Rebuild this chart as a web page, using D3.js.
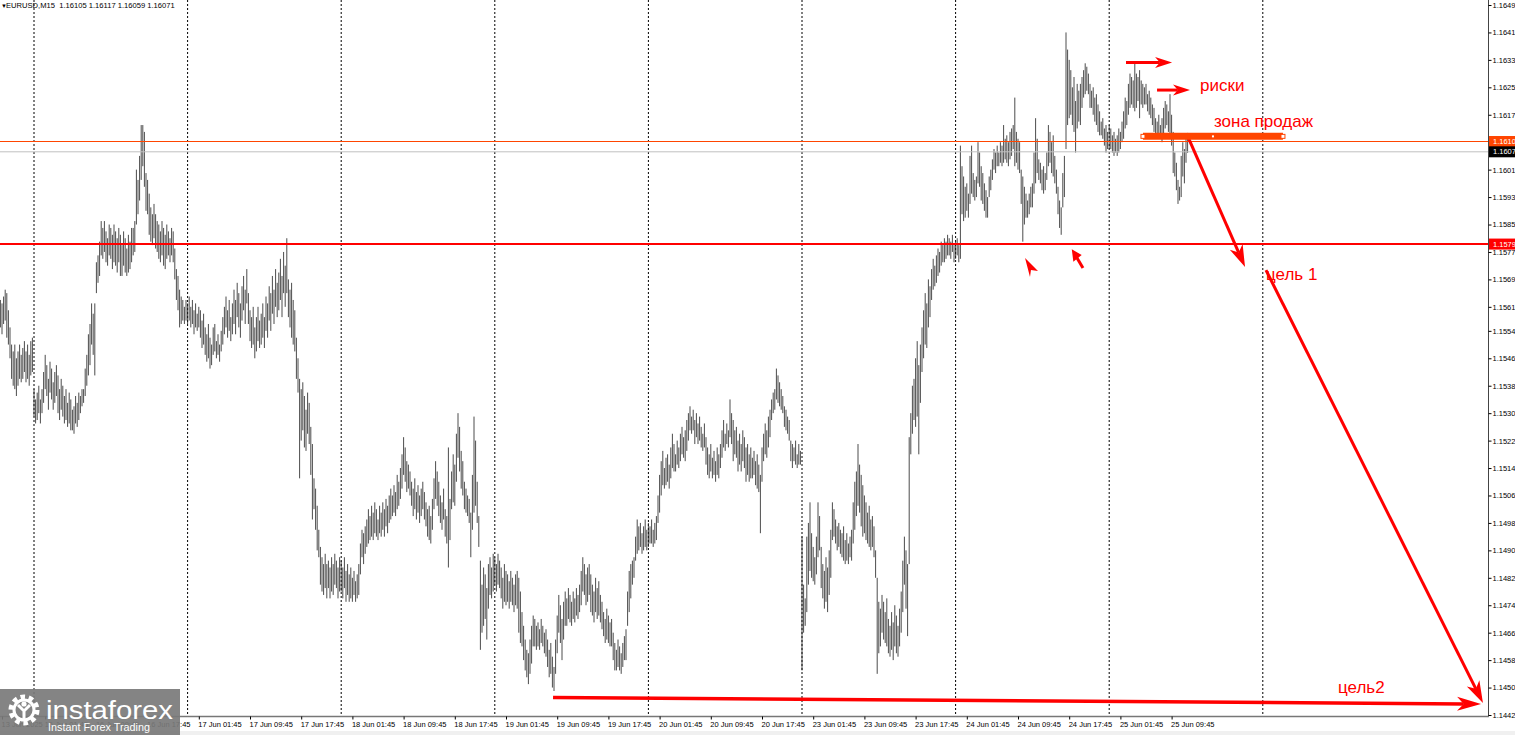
<!DOCTYPE html>
<html><head><meta charset="utf-8">
<script src="https://cdn.jsdelivr.net/npm/d3@7"></script>
<style>
body{margin:0;background:#fff;overflow:hidden}
svg{display:block}
text{font-family:"Liberation Sans",Arial,sans-serif}
</style>
</head><body>
<svg id="c" width="1515" height="735"></svg>
<script>
// ---------- DATA (EURUSD M15, bar highs / lows in pips above 1.1400) ----------
const BASE = 1.14, PIP = 0.0001;
const FIRST_BAR = -21;            // bar index of first bar (0 = 16 Jun 00:00)
const hi13 = [163,162,164,166,165,160,155,150,148,150,146,148,150,147,149,151,148,150,147,151,152];
const lo13 = [155,153,156,157,152,150,146,140,138,137,135,138,140,139,140,142,139,140,138,141,142];
const hi16 = [137,134,136,138,134,137,142,147,144,140,145,143,139,142,144,141,137,140,138,135,137,133,136,134,131,132,135,133,136,135,137,137,143,147,153,156,162,159,162,174,176,180,186,184,186,183,181,185,184,182,185,183,181,184,182,179,183,181,178,182,180,184,184,186,201,198,205,214,214,212,200,198,194,190,188,191,188,186,185,183,186,184,182,185,183,181,184,183,178,172,170,166,164,163,161,163];
const lo16 = [129,127,128,130,127,130,133,137,135,131,136,134,131,133,135,130,128,131,129,127,128,126,127,125,125,124,127,126,128,130,132,133,135,138,141,144,150,147,141,165,168,170,176,175,177,174,173,176,175,172,174,173,171,174,170,170,173,171,170,171,172,174,176,177,185,188,192,198,202,196,189,188,182,180,179,181,178,177,175,174,176,173,172,175,176,174,176,174,169,163,160,155,156,157,156,157];
const hi17 = [162,164,161,163,160,162,159,161,160,157,159,155,153,156,152,150,155,156,151,153,150,154,158,161,164,160,163,158,162,166,163,168,165,162,167,170,166,172,165,160,158,161,155,158,161,157,159,162,158,164,162,167,165,170,166,172,168,171,175,170,177,173,181,169,166,168,163,160,152,146,140,137,139,135,131,136,133,126,121,111,108,103,96,91,88,86,89,86,87,85,88,86,89,87,85,88];
const lo17 = [156,157,155,156,153,155,154,155,152,149,150,147,145,146,143,144,147,148,146,147,145,148,150,153,155,152,154,151,153,156,153,158,155,152,157,160,156,162,156,151,149,150,146,148,151,149,150,152,149,154,152,157,154,159,156,161,158,160,163,158,165,161,165,158,155,152,150,148,140,136,111,122,125,120,119,124,121,112,99,102,96,90,88,80,78,77,79,76,79,76,78,77,80,79,76,78];
const hi18 = [87,85,88,84,86,83,85,82,84,81,83,86,92,96,95,97,99,102,100,103,101,104,102,99,103,101,104,102,105,103,106,108,106,109,107,112,110,114,118,123,120,116,115,113,110,108,111,107,109,106,108,110,107,104,102,103,100,105,111,116,113,110,106,104,108,102,100,120,105,113,118,115,124,130,126,119,116,110,108,106,105,101,112,129,122,110,100,87,80,85,83,79,86,88,85,89];
const lo18 = [78,76,79,75,77,75,76,75,77,75,76,77,83,88,86,89,91,92,93,94,93,95,94,93,95,94,96,94,97,95,98,99,100,101,100,102,103,105,108,112,110,107,108,106,103,100,102,99,101,98,100,102,99,97,94,93,92,96,102,105,103,100,98,96,99,94,92,85,93,102,104,103,110,117,113,108,106,102,101,100,98,88,96,101,103,98,91,61,66,68,70,64,73,77,76,78];
const hi19 = [88,86,89,87,85,82,86,84,83,81,84,82,80,83,84,82,78,72,68,64,61,60,64,68,71,70,68,69,67,70,68,66,67,64,61,63,59,56,64,71,77,74,70,75,78,76,79,77,75,78,76,79,77,80,84,88,86,83,85,86,83,80,78,82,79,81,77,75,72,70,73,71,69,70,66,63,61,64,62,60,63,65,67,78,84,86,87,88,94,99,97,98,95,97,99,96];
const lo19 = [80,78,80,79,76,73,75,74,75,73,75,74,72,74,73,66,63,62,58,55,53,51,54,57,62,62,61,62,61,63,62,60,59,56,53,54,50,49,54,60,66,63,58,64,68,68,70,69,68,70,69,71,70,72,74,78,77,74,75,77,72,71,69,72,70,71,69,67,65,63,64,63,62,62,58,55,55,56,55,54,56,58,58,68,72,76,80,82,87,89,90,91,89,90,91,90];
const hi20 = [98,97,99,96,98,100,106,112,116,119,114,117,118,115,120,124,121,118,122,120,124,126,123,125,128,130,132,129,131,128,130,127,129,126,124,127,123,120,118,121,117,119,116,120,118,121,125,128,124,127,125,134,130,128,125,126,122,124,121,125,123,120,121,118,120,117,119,116,118,115,112,120,124,127,125,129,131,134,136,137,143,141,139,137,135,132,131,129,128,122,121,120,122,118,121,119];
const lo20 = [91,92,92,91,92,93,98,101,106,109,108,109,110,108,111,114,113,113,115,114,116,118,117,116,119,122,125,124,125,121,123,121,122,120,119,120,115,112,111,113,111,112,110,112,111,114,117,120,119,121,120,123,121,116,118,117,113,115,113,116,114,110,112,110,111,111,112,109,108,107,95,110,116,118,117,120,123,128,130,131,134,133,132,131,130,126,125,124,122,116,114,116,115,114,115,115];
const hi23 = [94,80,76,94,98,104,95,91,88,94,104,100,91,86,84,88,85,90,96,104,102,99,97,98,96,95,97,93,95,92,94,96,104,110,113,121,115,112,109,106,104,101,103,99,100,97,90,82,75,73,77,75,72,76,70,68,72,69,74,71,68,73,78,87,94,90,86,123,130,138,140,146,151,144,150,155,160,165,162,169,167,172,175,173,176,178,177,180,179,181,180,182,181,180,182,179];
const lo23 = [55,66,68,72,80,84,82,81,80,83,88,90,79,76,73,75,72,77,82,93,94,92,90,91,89,88,87,86,87,86,88,87,92,96,100,103,101,97,94,95,93,92,91,90,91,88,82,54,60,62,66,64,63,62,60,59,61,58,62,60,59,62,66,72,80,73,65,86,118,124,128,126,129,118,133,142,146,150,149,155,158,163,166,167,168,170,171,173,174,174,175,176,176,175,177,174];
const hi24 = [180,181,179,208,202,199,196,197,194,205,208,200,198,199,209,206,202,200,197,195,193,199,201,204,207,206,208,206,209,208,214,210,211,209,212,213,214,222,212,210,209,201,199,196,194,192,194,196,197,206,216,210,204,203,201,202,200,206,214,212,209,211,205,201,196,192,190,200,205,241,236,233,230,225,228,221,226,224,226,228,230,232,231,229,226,224,225,222,223,220,218,215,216,213,214,212,214];
const lo24 = [175,176,174,175,188,186,187,189,187,191,194,193,192,193,197,196,192,191,189,187,187,193,195,198,201,200,202,202,203,202,203,204,203,202,204,205,207,202,203,201,200,191,180,185,187,187,188,190,190,194,197,200,198,197,195,194,195,198,202,203,200,199,197,194,188,184,182,190,193,207,214,216,217,214,212,206,213,215,214,219,222,223,224,223,219,219,217,215,214,212,211,211,210,208,206,207,207];
const hi25 = [213,211,212,210,211,213,212,215,218,222,221,226,229,228,227,232,229,228,230,227,226,225,226,223,224,222,220,219,216,215,217,214,216,219,221,220,218,223,217,212,206,203,198,196,205,209,207,211,211.7];
const lo25 = [207,206,205,206,205,206,207,209,210,213,214,217,219,220,219,218,219,221,216,220,219,220,220,218,217,216,214,212,211,210,211,210,209,211,213,214,212,210,208,200,199,195,191,192,193,199,197,203,205.9];

const titleText = "EURUSD,M15  1.16105 1.16117 1.16059 1.16071";
const priceTicks = [1.1649,1.1641,1.1633,1.1625,1.1617,1.1601,1.1593,1.1585,1.1577,1.1569,1.1561,1.1554,1.1546,1.1538,1.1530,1.1522,1.1514,1.1506,1.1498,1.1490,1.1482,1.1474,1.1466,1.1458,1.1450,1.1442];
const levelValues = [1.16092, 1.16062, 1.15793];
const levelLabels = ["1.1610", "1.1607", "1.1579"];
const levelColors = ["#ff4500", "#c0c0c0", "#ff0000"];
const levelBoxColors = ["#ff4500", "#000000", "#ff0000"];
const levelWidths = [1, 1, 2];
const firstDateLabel = "13 Jun 2025";
const dayNames = ["16 Jun","17 Jun","18 Jun","19 Jun","20 Jun","23 Jun","24 Jun","25 Jun"];
const hourNames = ["01:45","09:45","17:45"];
const hourOffsets = [7, 39, 71];
const separatorBars = [0,96,192,288,384,480,576,672,768];
const LAST_BAR = 721;

// annotations in (bar index, price)
const arrows = [ // [i1,p1,i2,p2,lineWidth,headLen,headHalfWidth]
  [682.5,1.16322, 711.3,1.16322, 3, 17, 5.5],
  [701.9,1.16242, 722.5,1.16242, 3, 17, 5.5],
  [721.3,1.16105, 756.9,1.15726, 3, 22, 7],
  [770.0,1.15717, 905.6,1.14455, 3, 22, 7],
  [324.4,1.14471, 904.4,1.14452, 3.5, 24, 7]
];
const sellZone = [693.1, 780.6, 1.16107];
const pointer1 = [[619.4,1.157524],[627.5,1.157145],[623.1,1.157174],[622.5,1.156970]];
const pointer2Head = [[648.6,1.157778],[654.8,1.157612],[649.6,1.157416]];
const pointer2Tail = [[651.9,1.157524],[655.6,1.157233]];
const labelTexts = ["риски", "зона продаж", "цель 1", "цель2"];
const labelPos = [[728.8,1.16239],[737.5,1.16134],[770.0,1.15688],[815.0,1.14484]];

// ---------- BUILD ----------
const highs = [].concat(hi13,hi16,hi17,hi18,hi19,hi20,hi23,hi24,hi25);
const lows  = [].concat(lo13,lo16,lo17,lo18,lo19,lo20,lo23,lo24,lo25);
const bars = highs.map((h,k)=>({i:FIRST_BAR+k, hi:BASE+h*PIP, lo:BASE+lows[k]*PIP}));

const W=1515, H=735, PR=1489, PB=717;
const svg = d3.select("#c");
const x = d3.scaleLinear().domain([0,768]).range([34, 34+768*1.6]);
const y = d3.scaleLinear().domain([1.1442,1.1649]).range([715,5]);

svg.append("rect").attr("width",W).attr("height",H).attr("fill","#fff");
svg.append("defs").append("clipPath").attr("id","plot").append("rect")
  .attr("x",0).attr("y",0).attr("width",PR).attr("height",PB);
const g = svg.append("g").attr("clip-path","url(#plot)");

// day separators
g.selectAll(".sep").data(separatorBars).join("line")
  .attr("x1",d=>x(d)).attr("x2",d=>x(d)).attr("y1",0).attr("y2",PB)
  .attr("stroke","#000").attr("stroke-width",1).attr("stroke-dasharray","2,2");

// bars
g.selectAll(".bar").data(bars).join("line")
  .attr("x1",d=>x(d.i)).attr("x2",d=>x(d.i))
  .attr("y1",d=>y(d.hi)).attr("y2",d=>y(d.lo))
  .attr("stroke","#1e1e1e").attr("stroke-width",0.8);

// horizontal levels
levelValues.forEach((v,k)=>{
  g.append("line").attr("x1",0).attr("x2",PR).attr("y1",y(v)).attr("y2",y(v))
   .attr("stroke",levelColors[k]).attr("stroke-width",levelWidths[k]);
});

// arrows
function arrow(a){
  const [i1,p1,i2,p2,lw,hl,hw]=a;
  const X1=x(i1),Y1=y(p1),X2=x(i2),Y2=y(p2);
  const dx=X2-X1, dy=Y2-Y1, L=Math.hypot(dx,dy), ux=dx/L, uy=dy/L, nx=-uy, ny=ux;
  const bx=X2-ux*hl, by=Y2-uy*hl, mx=X2-ux*hl*0.72, my=Y2-uy*hl*0.72;
  g.append("line").attr("x1",X1).attr("y1",Y1).attr("x2",mx).attr("y2",my)
    .attr("stroke","#ff0000").attr("stroke-width",lw);
  g.append("polygon").attr("points",[[X2,Y2],[bx+nx*hw,by+ny*hw],[mx,my],[bx-nx*hw,by-ny*hw]].map(p=>p.join(",")).join(" "))
    .attr("fill","#ff0000");
}
arrows.forEach(arrow);

// sell zone
g.append("line").attr("x1",x(sellZone[0])).attr("x2",x(sellZone[1]))
  .attr("y1",y(sellZone[2])).attr("y2",y(sellZone[2]))
  .attr("stroke","#ff4500").attr("stroke-width",7);
[sellZone[0],sellZone[1]].forEach(b=>{
  g.append("rect").attr("x",x(b)-2).attr("y",y(sellZone[2])-2).attr("width",4).attr("height",4)
    .attr("fill","#fff").attr("stroke","#ff4500").attr("stroke-width",1);
});
g.append("rect").attr("x",x((sellZone[0]+sellZone[1])/2)-1).attr("y",y(sellZone[2])-1)
  .attr("width",2).attr("height",2).attr("fill","#fff");

// pointers
g.append("polygon").attr("points",pointer1.map(p=>[x(p[0]),y(p[1])].join(",")).join(" ")).attr("fill","#ff0000");
g.append("polygon").attr("points",pointer2Head.map(p=>[x(p[0]),y(p[1])].join(",")).join(" ")).attr("fill","#ff0000");
g.append("line").attr("x1",x(pointer2Tail[0][0])).attr("y1",y(pointer2Tail[0][1]))
  .attr("x2",x(pointer2Tail[1][0])).attr("y2",y(pointer2Tail[1][1]))
  .attr("stroke","#ff0000").attr("stroke-width",3);

// annotation texts
labelTexts.forEach((t,k)=>{
  g.append("text").attr("x",x(labelPos[k][0])).attr("y",y(labelPos[k][1]))
   .attr("fill","#ff0000").attr("font-size",17).text(t);
});

// title
svg.append("text").attr("x",1).attr("y",7.5).attr("font-size",6).text("▼");
svg.append("text").attr("x",6).attr("y",7.5).attr("font-size",7.6).attr("xml:space","preserve").text(titleText);

// axes frame
svg.append("line").attr("x1",PR-0.5).attr("x2",PR-0.5).attr("y1",0).attr("y2",PB).attr("stroke","#444");
svg.append("line").attr("x1",0).attr("x2",PR).attr("y1",PB-0.5).attr("y2",PB-0.5).attr("stroke","#777").attr("stroke-width",1.5);
svg.append("rect").attr("x",0).attr("y",731).attr("width",W).attr("height",4).attr("fill","#f0f0f0");

// price axis
const yAxis = d3.axisRight(y).tickValues(priceTicks).tickFormat(d3.format(".4f")).tickSize(3).tickPadding(1);
const ya = svg.append("g").attr("transform",`translate(${PR-0.5},0)`).call(yAxis);
ya.select(".domain").remove();
ya.selectAll("line").attr("stroke","#000");
ya.selectAll("text").attr("font-size",7.5).attr("fill","#000").attr("font-family","Liberation Sans, Arial");

// level label boxes
levelValues.forEach((v,k)=>{
  const yy=y(v);
  svg.append("rect").attr("x",PR).attr("y",yy-5.5).attr("width",W-PR).attr("height",11).attr("fill",levelBoxColors[k]);
  svg.append("text").attr("x",PR+4).attr("y",yy).attr("dy","0.34em").attr("font-size",7.5)
    .attr("fill","#fff").text(levelLabels[k]);
});

// time axis
const tBars=[FIRST_BAR+1], tTexts=[firstDateLabel];
dayNames.forEach((dn,k)=>hourOffsets.forEach((o,j)=>{
  const b=k*96+o; if(b<=LAST_BAR){tBars.push(b); tTexts.push(dn+" "+hourNames[j]);}
}));
const xAxis = d3.axisBottom(x).tickValues(tBars).tickFormat((d,k)=>tTexts[k]).tickSize(3).tickPadding(2);
const xa = svg.append("g").attr("transform",`translate(0,${PB-0.5})`).call(xAxis);
xa.select(".domain").remove();
xa.selectAll("line").attr("stroke","#000");
xa.selectAll("text").attr("font-size",7.5).attr("fill","#000").attr("text-anchor","start").attr("dx",-1);

// logo
const lg = svg.append("g");
lg.append("rect").attr("x",0).attr("y",689).attr("width",180).attr("height",46).attr("fill","#7a7a7a").attr("opacity",0.92);
lg.append("circle").attr("cx",24).attr("cy",710).attr("r",13).attr("fill","none")
  .attr("stroke","#fff").attr("stroke-width",5).attr("stroke-dasharray","4.5,3.7");
lg.append("circle").attr("cx",24).attr("cy",710).attr("r",10).attr("fill","none").attr("stroke","#fff").attr("stroke-width",3);
lg.append("circle").attr("cx",24).attr("cy",704).attr("r",2.6).attr("fill","#fff");
lg.append("path").attr("d","M18,705 L24,711 L30,705 M24,711 L24,719").attr("stroke","#fff").attr("stroke-width",3).attr("fill","none");
lg.append("text").attr("x",46).attr("y",719).attr("font-size",26).attr("fill","#fff")
  .attr("textLength",127).attr("lengthAdjust","spacingAndGlyphs").text("instaforex");
lg.append("text").attr("x",48).attr("y",731).attr("font-size",10.5).attr("fill","#fff")
  .attr("textLength",102).attr("lengthAdjust","spacingAndGlyphs").text("Instant Forex Trading");
</script>
</body></html>
